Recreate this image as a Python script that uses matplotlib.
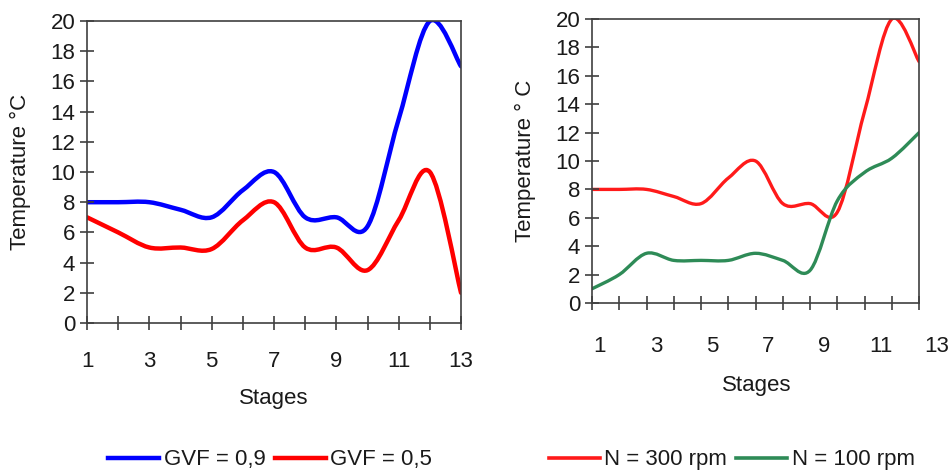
import numpy as np
import matplotlib
matplotlib.use("Agg")
import matplotlib.pyplot as plt
from matplotlib.path import Path
from matplotlib.patches import PathPatch
from matplotlib.lines import Line2D
from matplotlib.transforms import blended_transform_factory

plt.rcParams['font.family'] = ['Liberation Sans', 'DejaVu Sans']

# data
stages = [1, 2, 3, 4, 5, 6, 7, 8, 9, 10, 11, 12, 13]
gvf_09 = [8.0, 8.0, 8.0, 7.5, 7.0, 8.8, 10.0, 7.0, 7.0, 6.4, 13.5, 20.0, 17.0]
gvf_05 = [7.0, 6.0, 5.0, 5.0, 4.9, 6.8, 8.0, 5.0, 5.0, 3.5, 6.8, 10.0, 2.0]
n_300 = [8.0, 8.0, 8.0, 7.5, 7.0, 8.8, 10.0, 7.0, 7.0, 6.4, 13.5, 20.0, 17.0]
n_100 = [1.0, 2.0, 3.5, 3.0, 3.0, 3.0, 3.5, 3.0, 2.3, 7.2, 9.2, 10.2, 12.0]
x_labels = ['1', '3', '5', '7', '9', '11', '13']
y_ticks = list(range(0, 21, 2))

SPINE = '#404040'
TXT = '#1a1a1a'


def smooth_path(x, y):
    """Excel-like smoothed line as a chain of cubic Bezier segments."""
    pts = np.column_stack([x, y]).astype(float)
    n = len(pts)
    verts = [pts[0]]
    codes = [Path.MOVETO]
    for i in range(n - 1):
        p0 = pts[i - 1] if i > 0 else pts[i]
        p1, p2 = pts[i], pts[i + 1]
        p3 = pts[i + 2] if i + 2 < n else pts[i + 1]
        c1 = p1 + (p2 - p0) / 6.0
        c2 = p2 - (p3 - p1) / 6.0
        verts += [c1, c2, p2]
        codes += [Path.CURVE4] * 3
    return Path(verts, codes)


def draw_curve(ax, x, y, color, lw):
    ax.add_patch(PathPatch(smooth_path(x, y), fill=False, edgecolor=color,
                           lw=lw, capstyle='round', joinstyle='round'))


def style_axes(ax):
    ax.set_xlim(1, 13)
    ax.set_ylim(0, 20)
    ax.set_yticks(y_ticks)
    for s in ax.spines.values():
        s.set_color(SPINE)
        s.set_linewidth(1.2)
    ax.tick_params(direction='inout', length=10, width=1.2, color=SPINE,
                   labelsize=16, labelcolor=TXT)


fig = plt.figure(figsize=(9.48, 4.74), dpi=100)

# left panel
ax1 = fig.add_axes([0.0918, 0.3186, 0.3945, 0.637])
style_axes(ax1)
ax1.set_xticks(stages)
ax1.set_xticklabels([str(s) if s % 2 == 1 else '' for s in stages])
ax1.tick_params(axis='x', pad=15)
draw_curve(ax1, stages, gvf_09, '#0000ff', 3.2)
draw_curve(ax1, stages, gvf_05, '#ff0000', 3.2)
ax1.set_ylabel('Temperature °C', fontsize=16, color=TXT)
ax1.yaxis.set_label_coords(-0.15, 0.5)
ax1.set_xlabel('Stages', fontsize=16, color=TXT)
ax1.xaxis.set_label_coords(0.5, -0.215)

# right panel
ax2 = fig.add_axes([0.6245, 0.3608, 0.345, 0.599])
style_axes(ax2)
ax2.set_xticks(stages)
ax2.set_xticklabels([])
draw_curve(ax2, stages, n_300, '#ff1a1a', 2.4)
draw_curve(ax2, stages, n_100, '#2e8b57', 2.4)
# category labels sit offset from the ticks in the original
trans = blended_transform_factory(ax2.transData, ax2.transAxes)
for k, lab in enumerate(x_labels):
    ax2.text(1.29 + 2.06 * k, -0.155, lab, transform=trans, ha='center',
             va='center', fontsize=16, color=TXT, clip_on=False)
ax2.set_ylabel('Temperature ° C', fontsize=16, color=TXT)
ax2.yaxis.set_label_coords(-0.171, 0.5)
ax2.set_xlabel('Stages', fontsize=16, color=TXT)
ax2.xaxis.set_label_coords(0.505, -0.254)

# legends below each panel
h1 = [Line2D([], [], color='#0000ff', lw=3.2), Line2D([], [], color='#ff0000', lw=3.2)]
fig.legend(h1, ['GVF = 0,9', 'GVF = 0,5'], loc='center', bbox_to_anchor=(0.285, 0.03),
           ncol=2, frameon=False, fontsize=16, handlelength=2.3, handletextpad=0.2,
           columnspacing=0.4, labelcolor=TXT)
h2 = [Line2D([], [], color='#ff1a1a', lw=2.6), Line2D([], [], color='#2e8b57', lw=2.6)]
fig.legend(h2, ['N = 300 rpm', 'N = 100 rpm'], loc='center', bbox_to_anchor=(0.772, 0.03),
           ncol=2, frameon=False, fontsize=16, handlelength=2.3, handletextpad=0.2,
           columnspacing=0.4, labelcolor=TXT)

fig.savefig('out.png', dpi=100)
